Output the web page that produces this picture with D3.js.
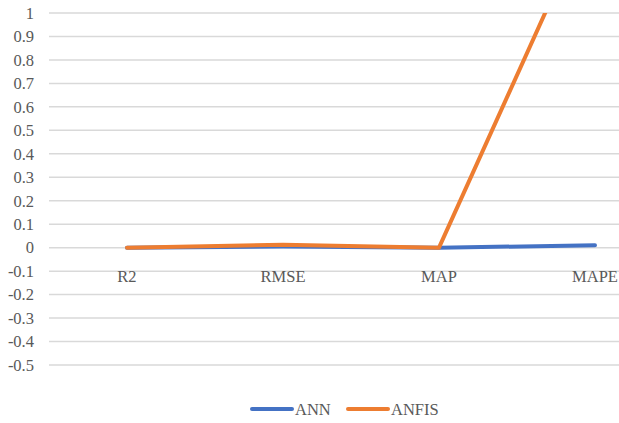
<!DOCTYPE html>
<html>
<head>
<meta charset="utf-8">
<script src="https://cdn.jsdelivr.net/npm/d3@7"></script>
<style>
  body { margin: 0; background: #fff; }
</style>
</head>
<body>
<svg id="chart" width="619" height="423"></svg>
<script>
// chart values
const categories = ['R2', 'RMSE', 'MAP', 'MAPE'];
const annValues = [0, 0.005, 0, 0.01];
const anfisValues = [0, 0.012, 0, 1.47];
const yTicks = [-0.5, -0.4, -0.3, -0.2, -0.1, 0, 0.1, 0.2, 0.3, 0.4, 0.5, 0.6, 0.7, 0.8, 0.9, 1];

const series = [
  { name: 'ANN', values: annValues, color: '#4472C4' },
  { name: 'ANFIS', values: anfisValues, color: '#ED7D31' }
];

const svg = d3.select('#chart');

// plot area runs past the right edge, like the original crop
const x = d3.scalePoint()
  .domain(categories)
  .range([49, 673])
  .padding(0.5);

const y = d3.scaleLinear()
  .domain([-0.5, 1])
  .range([365, 13]);

// gridlines
svg.append('g')
  .selectAll('line')
  .data(yTicks)
  .enter().append('line')
  .attr('x1', 49)
  .attr('x2', 673)
  .attr('y1', d => y(d))
  .attr('y2', d => y(d))
  .attr('stroke', '#D9D9D9')
  .attr('stroke-width', 1.5);

// y tick labels
svg.append('g')
  .selectAll('text')
  .data(yTicks)
  .enter().append('text')
  .attr('x', 34)
  .attr('y', d => y(d))
  .attr('dy', '0.35em')
  .attr('text-anchor', 'end')
  .attr('font-family', 'Liberation Serif')
  .attr('font-size', 16.5)
  .attr('fill', '#595959')
  .text(d => String(+d.toFixed(1)));

// category labels just under the zero line
svg.append('g')
  .selectAll('text')
  .data(categories)
  .enter().append('text')
  .attr('x', d => x(d))
  .attr('y', y(0) + 34)
  .attr('text-anchor', 'middle')
  .attr('font-family', 'Liberation Serif')
  .attr('font-size', 16.5)
  .attr('fill', '#595959')
  .text(d => d);

// clip to the plot area
svg.append('clipPath')
  .attr('id', 'plot-clip')
  .append('rect')
  .attr('x', 0)
  .attr('y', y(1))
  .attr('width', 700)
  .attr('height', y(-0.5) - y(1));

const line = d3.line()
  .x((d, i) => x(categories[i]))
  .y(d => y(d));

svg.append('g')
  .attr('clip-path', 'url(#plot-clip)')
  .selectAll('path')
  .data(series)
  .enter().append('path')
  .attr('d', d => line(d.values))
  .attr('fill', 'none')
  .attr('stroke', d => d.color)
  .attr('stroke-width', 4)
  .attr('stroke-linecap', 'round')
  .attr('stroke-linejoin', 'round');

// legend
const legend = svg.append('g').attr('transform', 'translate(252,409)');
const item = legend.selectAll('g')
  .data(series)
  .enter().append('g')
  .attr('transform', (d, i) => `translate(${i * 96},0)`);

item.append('line')
  .attr('x1', 0)
  .attr('x2', 40)
  .attr('stroke', d => d.color)
  .attr('stroke-width', 4)
  .attr('stroke-linecap', 'round');

item.append('text')
  .attr('x', 43)
  .attr('dy', '0.35em')
  .attr('font-family', 'Liberation Serif')
  .attr('font-size', 16.5)
  .attr('fill', '#595959')
  .text(d => d.name);
</script>
</body>
</html>
